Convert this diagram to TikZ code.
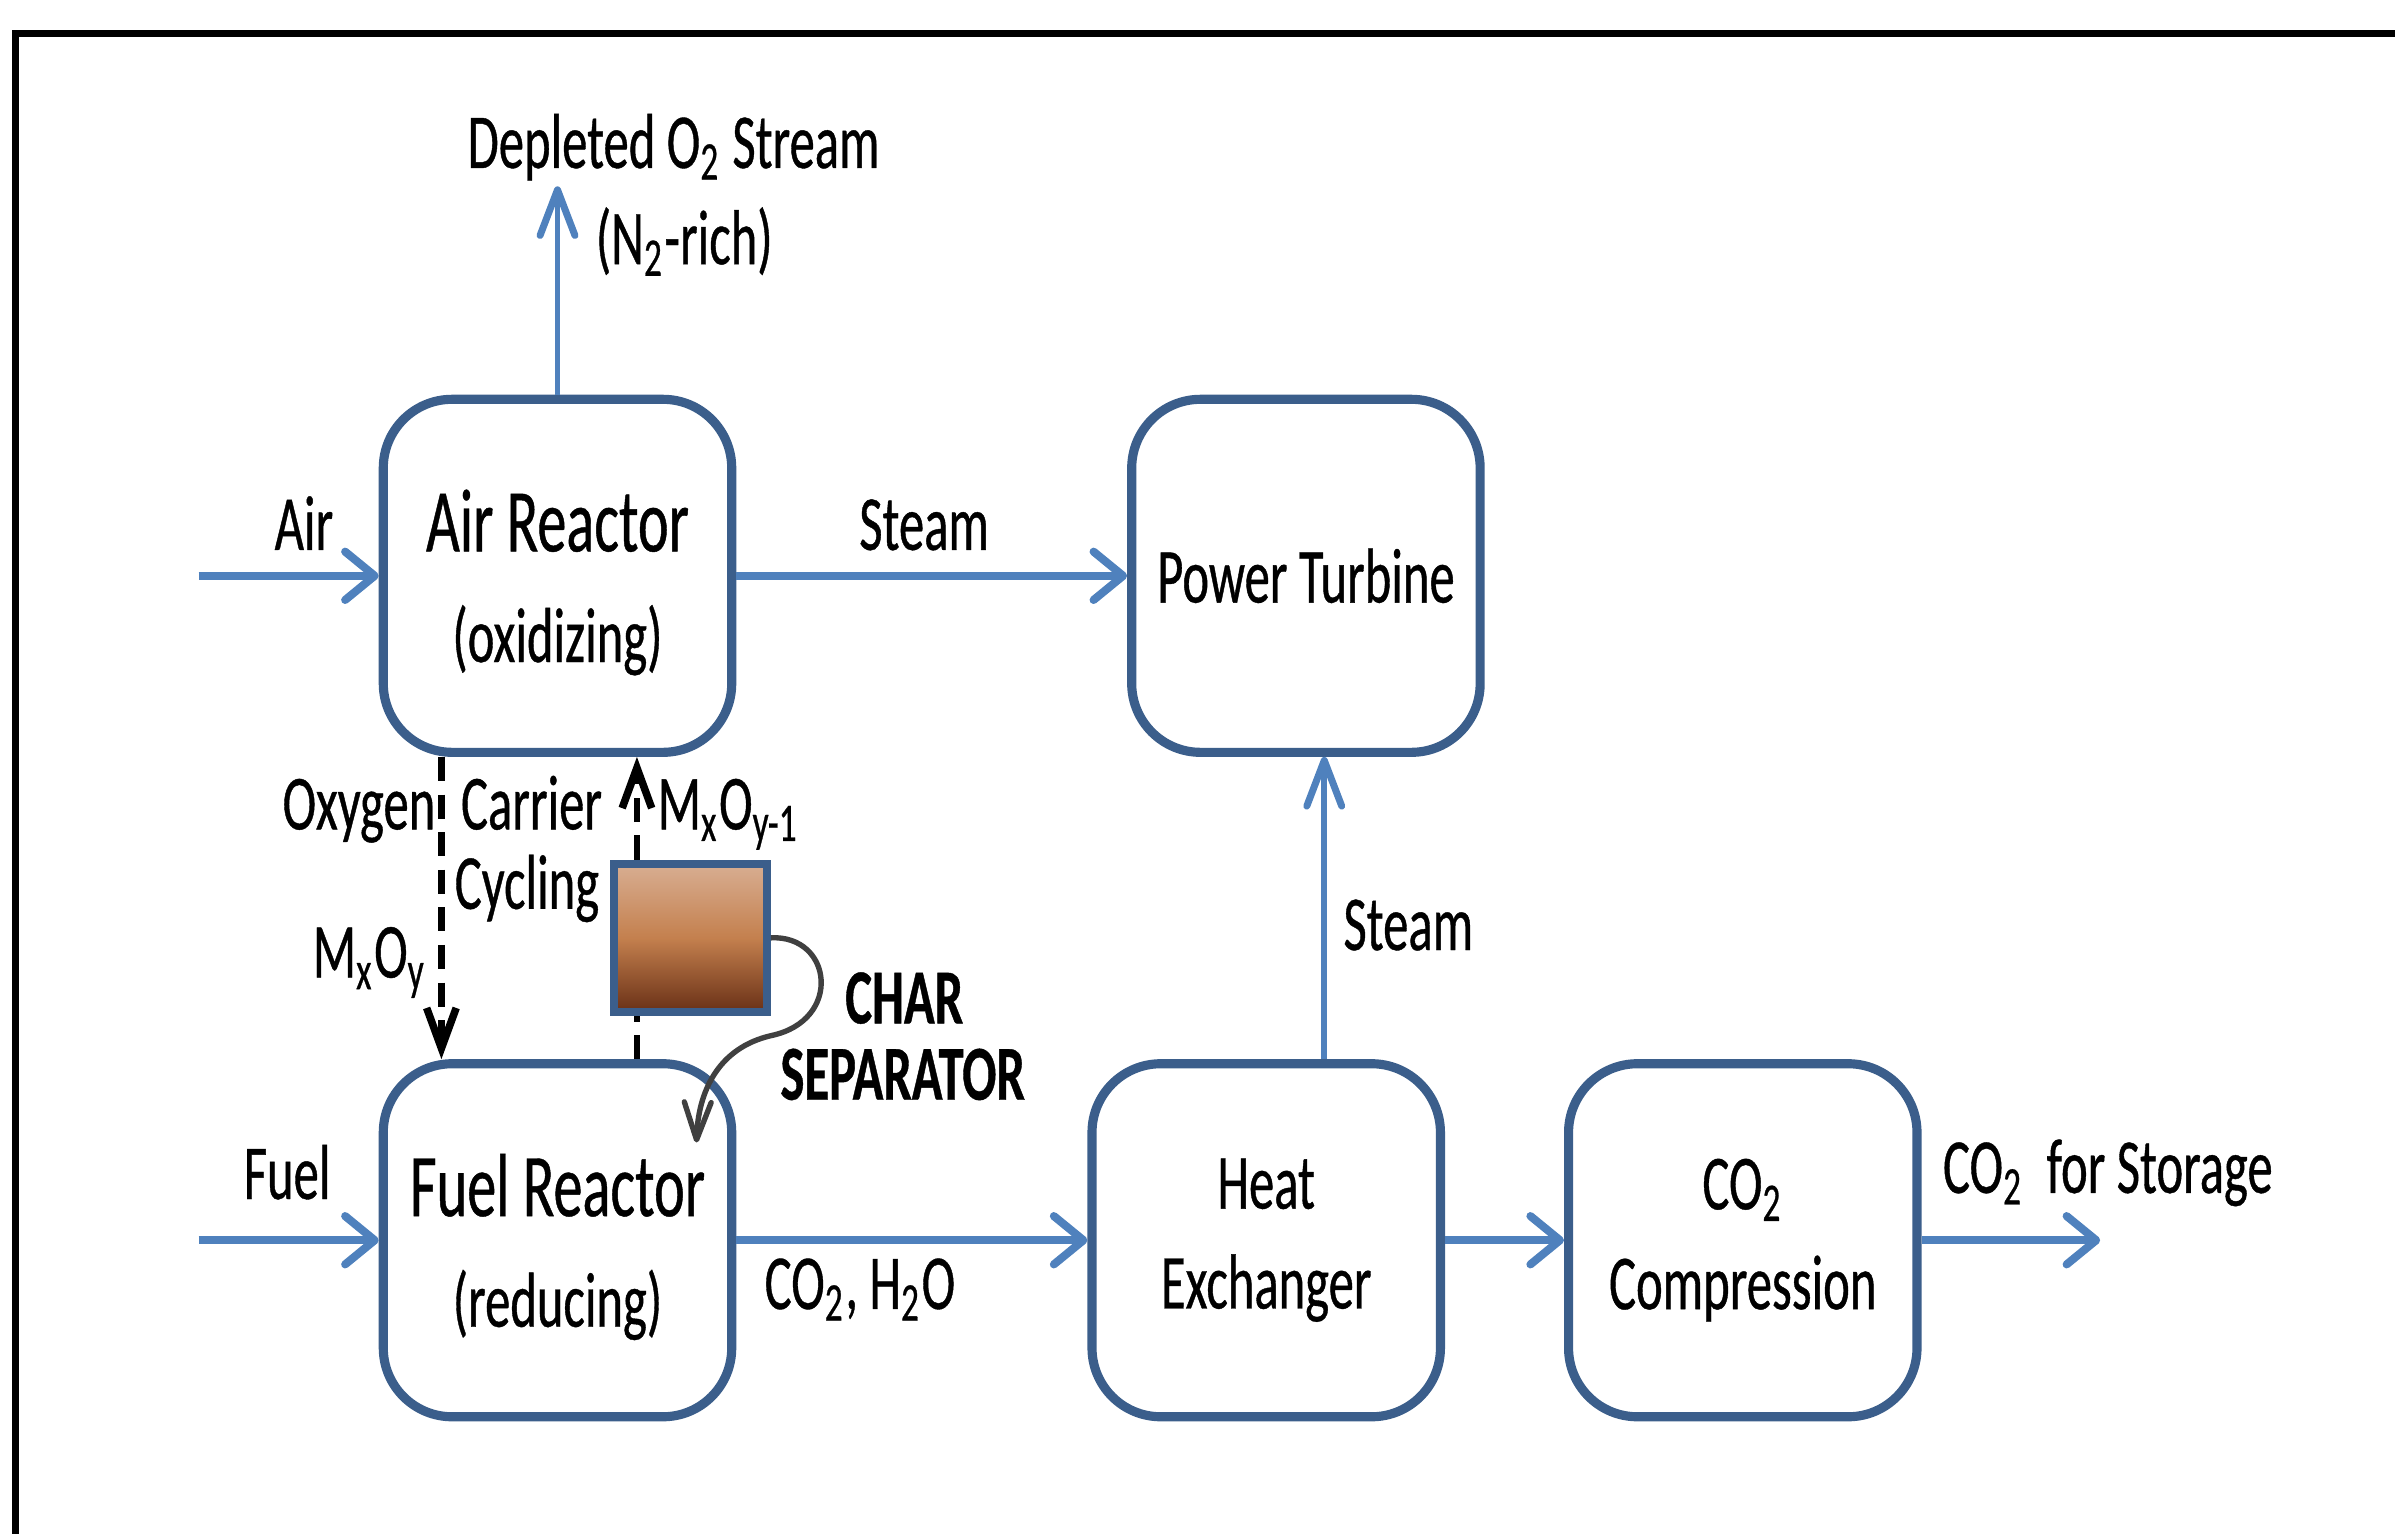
\documentclass[tikz,border=0pt]{standalone}
\usepackage{fontspec}
\setmainfont{Carlito}[FakeStretch=0.65, FakeBold=0.5]
\usetikzlibrary{arrows.meta, positioning, calc}
\definecolor{boxblue}{RGB}{59,94,139}
\definecolor{flowblue}{RGB}{79,129,189}
\definecolor{chargray}{RGB}{64,64,64}
\definecolor{chartop}{RGB}{216,174,146}
\definecolor{charmid}{RGB}{196,128,78}
\definecolor{charbot}{RGB}{105,48,22}
\newcommand{\bigtitle}[1]{{\fontsize{16.7}{17.6}\selectfont #1}}
\tikzset{
	flowtext/.style={font=\fontsize{14.5}{17.6}\selectfont, anchor=base, inner sep=0pt}
}
\tikzset{
	boldtext/.style={font=\fontsize{14.5}{17.6}\selectfont\bfseries, anchor=base, inner sep=0pt}
}

\begin{document}
\begin{tikzpicture}[x=0.01cm, y=-0.01cm]
			\tikzset{
				unitbox/.style={
						shape=rectangle,
						rounded corners=0.45cm,
						draw=boxblue,
						line width=1.7pt,
						fill=white,
						minimum width=2.28cm,
						minimum height=2.31cm,
						align=center,
						inner sep=0pt,
						font=\fontsize{14.5}{17.6}\selectfont
					},
				reactorbox/.style={unitbox, text depth=-2pt},
				hflow/.style={draw=flowblue, line width=1.4pt, -{Straight Barb[round, length=5.5pt, width=9pt, line width=1.5pt]}},
				vflow/.style={draw=flowblue, line width=1.1pt, -{Straight Barb[round, length=8.5pt, width=6.5pt, line width=1.3pt]}},
				carrier/.style={draw=black, line width=1.2pt, dash pattern=on 4.5pt off 2.5pt},
				carriertip/.style={-{Straight Barb[length=7.5pt, width=5.5pt, line width=1.4pt]}}
			}
			\useasboundingbox (0,0) rectangle (1568,1004);

			% frame
			\draw[line width=1.3pt] (10,1100) -- (10,22) -- (1700,22);

			\node[reactorbox] (air) at (365,377) {\bigtitle{Air Reactor}\\[3pt](oxidizing)};
			\node[unitbox] (turb) at (855,377) {Power Turbine};
			\node[reactorbox] (fuel) at (365,812) {\bigtitle{Fuel Reactor}\\[3pt](reducing)};
			\node[unitbox] (hx) at (829,812) {Heat\\[1pt]Exchanger};
			\node[unitbox] (comp) at (1141,812) {CO\textsubscript{2}\\[1pt]Compression};
			\node[draw=boxblue, line width=1.5pt, minimum width=1.0cm, minimum height=0.97cm, inner sep=0pt,
				top color=chartop, bottom color=charbot, middle color=charmid] (sep) at (452,614) {};

			\coordinate (airin) at (130,377);
			\coordinate (fuelin) at (130,812);
			\coordinate (deplout) at (365,122);
			\coordinate (co2out) at (1375,812);
			\coordinate (stx) at (867,0);
			\coordinate (dnx) at (289,0);
			\coordinate (upx) at (417,0);
			\coordinate (chartip) at (456,748);

			\draw[hflow] (airin) -- (air.west);
			\draw[vflow] (air.north) -- (deplout);
			\draw[hflow] (air.east) -- (turb.west);
			\draw[vflow] (hx.north -| stx) -- (turb.south -| stx);
			\draw[hflow] (fuelin) -- (fuel.west);
			\draw[hflow] (fuel.east) -- (hx.west);
			\draw[hflow] (hx.east) -- (comp.west);
			\draw[hflow] (comp.east) -- (co2out);

			\draw[carrier, carriertip] (air.south -| dnx) -- (fuel.north -| dnx);
			\draw[carrier] (fuel.north -| upx) -- (sep.south -| upx);
			\draw[carrier, carriertip] (sep.north -| upx) -- (air.south -| upx);

			\draw[chargray, line width=1pt, -{Straight Barb[round, length=7pt, width=5pt]}]
				(sep.east) .. controls (545,612) and (552,668) .. (505,678)
				.. controls (470,686) and (457,715) .. (chartip);

			\node[flowtext] (depl1) at (441,110) {Depleted O\textsubscript{2} Stream};
			\node[flowtext] (depl2) at (448,173) {(N\textsubscript{2}-rich)};
			\node[flowtext] (lair) at (199,360) {Air};
			\node[flowtext] (lsteam1) at (605,360) {Steam};
			\node[flowtext] (loxy) at (235,543) {Oxygen};
			\node[flowtext] (lcarr) at (348,543) {Carrier};
			\node[flowtext] (lcyc) at (345,595) {Cycling};
			\node[flowtext] (lmo) at (242,640) {M\textsubscript{x}O\textsubscript{y}};
			\node[flowtext] (lmo1) at (477,543) {M\textsubscript{x}O\textsubscript{y-1}};
			\node[boldtext] (lchar) at (592,670) {CHAR};
			\node[boldtext] (lsep) at (591,720) {SEPARATOR};
			\node[flowtext] (lsteam2) at (922,622) {Steam};
			\node[flowtext] (lfuel) at (188,785) {Fuel};
			\node[flowtext] (lco2) at (563,857) {CO\textsubscript{2}, H\textsubscript{2}O};
			\node[flowtext] (lstor) at (1380,781) {CO\textsubscript{2}\ \ for Storage};
		\end{tikzpicture}
\end{document}
